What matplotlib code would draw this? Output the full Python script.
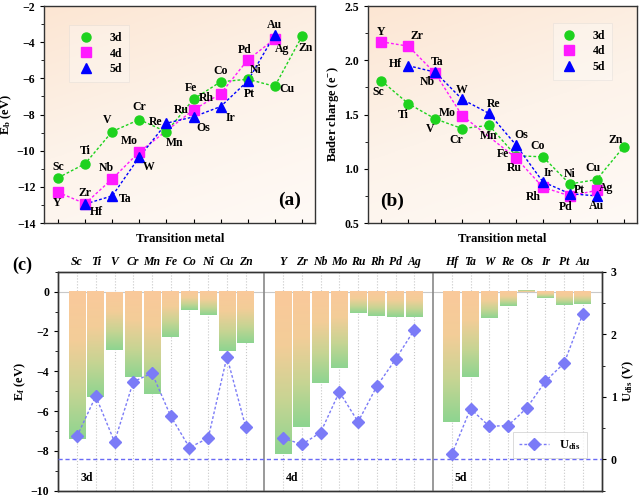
import numpy as np
import matplotlib
matplotlib.use('Agg')
import matplotlib.pyplot as plt
from matplotlib.colors import LinearSegmentedColormap
from matplotlib.ticker import MultipleLocator

plt.rcParams['font.family'] = ['Liberation Serif', 'DejaVu Serif']
plt.rcParams['font.weight'] = 'bold'
plt.rcParams['axes.labelweight'] = 'bold'
plt.rcParams['mathtext.fontset'] = 'custom'
plt.rcParams['mathtext.rm'] = 'Liberation Serif:bold'
plt.rcParams['mathtext.it'] = 'Liberation Serif:bold:italic'
plt.rcParams['mathtext.bf'] = 'Liberation Serif:bold'

# ---------------- data ----------------
el_3d = ['Sc', 'Ti', 'V', 'Cr', 'Mn', 'Fe', 'Co', 'Ni', 'Cu', 'Zn']
el_4d = ['Y', 'Zr', 'Nb', 'Mo', 'Ru', 'Rh', 'Pd', 'Ag']
el_5d = ['Hf', 'Ta', 'W', 'Re', 'Os', 'Ir', 'Pt', 'Au']

# x slots (group columns 1..10) used in panels (a) and (b)
pos_3d = [1, 2, 3, 4, 5, 6, 7, 8, 9, 10]
pos_4d = [1, 2, 3, 4, 6, 7, 8, 9]
pos_5d = [2, 3, 4, 5, 6, 7, 8, 9]

# (a) binding energy E_b (eV)
eb_3d = [-11.5, -10.72, -8.94, -8.28, -8.96, -7.15, -6.19, -6.05, -6.44, -3.68]
eb_4d = [-12.3, -12.93, -11.56, -10.07, -7.74, -6.85, -4.98, -3.82]
eb_5d = [-12.95, -12.5, -10.35, -8.48, -8.13, -7.56, -6.15, -3.58]

# (b) Bader charge (e-)
q_3d = [1.81, 1.60, 1.46, 1.37, 1.40, 1.12, 1.11, 0.86, 0.90, 1.20]
q_4d = [2.17, 2.13, 1.88, 1.49, 1.10, 0.83, 0.75, 0.80]
q_5d = [1.95, 1.89, 1.64, 1.51, 1.22, 0.88, 0.77, 0.75]

# (c) formation energy E_f (eV) and dissolution potential U_dis (V)
ef_3d = [-7.39, -5.29, -2.91, -4.30, -5.13, -2.29, -0.94, -1.19, -2.97, -2.57]
ef_4d = [-8.18, -6.82, -4.59, -3.85, -1.06, -1.24, -1.29, -1.26]
ef_5d = [-6.55, -4.27, -1.31, -0.72, 0.10, -0.32, -0.69, -0.62]
ud_3d = [0.37, 1.01, 0.28, 1.24, 1.38, 0.69, 0.19, 0.34, 1.64, 0.52]
ud_4d = [0.34, 0.24, 0.43, 1.08, 0.60, 1.17, 1.60, 2.07]
ud_5d = [0.08, 0.81, 0.53, 0.54, 0.82, 1.25, 1.54, 2.33]

# label offsets (points) for the element names in (a) and (b)
off_a_3d = [(0, 8), (0, 9), (-4, 8), (0, 9), (6, -8), (-2, 8), (0, 8), (6, 7), (9, -2), (3, -8)]
off_a_4d = [(-1, -8), (0, 8), (-4, 8), (-7, 8), (-9, 0), (-10, -3), (-2, 7), (5, -7)]
off_a_5d = [(8, -6), (9, -2), (7, -7), (-8, 1), (7, -8), (7, -8), (1, -9), (0, 7)]
off_b_3d = [(-2, -8), (-4, -8), (-4, -7), (-4, -8), (0, -8), (-9, 1), (-4, 8), (0, 7), (-3, 8), (-6, 5)]
off_b_4d = [(0, 7), (6, 7), (-6, -6), (-11, 2), (-1, -7), (-7, -7), (-3, -8), (7, 2)]
off_b_5d = [(-9, 1), (1, 7), (0, 7), (3, 7), (4, 7), (4, 6), (7, 3), (0, -7)]

green = '#1ed21e'
magenta = '#ff1aff'
blue = '#0000ff'
lab_fs = 8.5

fig = plt.figure(figsize=(6.4, 4.97), dpi=100)
ax_a = fig.add_axes([0.0695, 0.5513, 0.4234, 0.4366])
ax_b = fig.add_axes([0.575, 0.5513, 0.4203, 0.4366])
ax_c = fig.add_axes([0.0911, 0.0127, 0.849, 0.4406])

bg_cmap = LinearSegmentedColormap.from_list('bg', ['#fce6d3', '#fdf3ea', '#fffaf6'])
bg = np.linspace(0, 1, 200).reshape(-1, 1) * 0.7 + np.linspace(0, 1, 200).reshape(1, -1) * 0.3


def scatter_panel(ax, series, labels, offsets):
    ax.imshow(bg, cmap=bg_cmap, extent=(0, 1, 0, 1), transform=ax.transAxes,
              aspect='auto', zorder=0, origin='upper')
    for (xs, ys, col, mk, name), labs, offs in zip(series, labels, offsets):
        ax.plot(xs, ys, color=col, ls=(0, (2, 1.5)), lw=1, zorder=2)
        ax.plot(xs, ys, color=col, ls='none', marker=mk, ms=6.5, label=name, zorder=3)
        for x, y, t, o in zip(xs, ys, labs, offs):
            ax.annotate(t, (x, y), xytext=o, textcoords='offset points',
                        ha='center', va='center', fontsize=lab_fs, zorder=4)
    ax.set_xlim(0.5, 10.5)
    ax.set_xticks(range(1, 11))
    ax.set_xticklabels([])
    ax.tick_params(axis='x', direction='in', length=3)
    ax.tick_params(axis='y', direction='out', length=3, labelsize=8.5)
    ax.tick_params(axis='y', which='minor', direction='out', length=2)
    ax.set_xlabel('Transition metal', fontsize=9, labelpad=4)
    for s in ax.spines.values():
        s.set_color('#333333')
        s.set_linewidth(1)
    leg = ax.legend(fontsize=8.5, handletextpad=1.2, borderpad=0.6, labelspacing=0.3,
                    handlelength=1.6, fancybox=False, edgecolor='#cccccc', framealpha=0.3)
    leg.get_frame().set_linewidth(0.6)
    return leg


series_a = [(pos_3d, eb_3d, green, 'o', '3d'), (pos_4d, eb_4d, magenta, 's', '4d'),
            (pos_5d, eb_5d, blue, '^', '5d')]
leg_a = scatter_panel(ax_a, series_a, [el_3d, el_4d, el_5d], [off_a_3d, off_a_4d, off_a_5d])
leg_a.set_bbox_to_anchor((0.07, 0.94), transform=ax_a.transAxes)
leg_a._loc = 2
ax_a.set_ylim(-14, -2)
ax_a.yaxis.set_major_locator(MultipleLocator(2))
ax_a.yaxis.set_minor_locator(MultipleLocator(1))
ax_a.set_ylabel('E$_\\mathrm{b}$ (eV)', fontsize=9, labelpad=2)
ax_a.text(0.905, 0.105, '(a)', transform=ax_a.transAxes, fontsize=14,
          ha='center', va='center')

series_b = [(pos_3d, q_3d, green, 'o', '3d'), (pos_4d, q_4d, magenta, 's', '4d'),
            (pos_5d, q_5d, blue, '^', '5d')]
leg_b = scatter_panel(ax_b, series_b, [el_3d, el_4d, el_5d], [off_b_3d, off_b_4d, off_b_5d])
leg_b.set_bbox_to_anchor((0.93, 0.95), transform=ax_b.transAxes)
leg_b._loc = 1
ax_b.set_ylim(0.5, 2.5)
ax_b.yaxis.set_major_locator(MultipleLocator(0.5))
ax_b.yaxis.set_minor_locator(MultipleLocator(0.25))
ax_b.set_ylabel('Bader charge (e$^{-}$)', fontsize=9, labelpad=2)
ax_b.text(0.09, 0.1, '(b)', transform=ax_b.transAxes, fontsize=14,
          ha='center', va='center')

# ---------------- panel (c) ----------------
names_c = el_3d + el_4d + el_5d
xc_3d = np.arange(0, 10)
xc_4d = np.arange(11, 19)
xc_5d = np.arange(20, 28)
xc = np.concatenate([xc_3d, xc_4d, xc_5d])
ef = ef_3d + ef_4d + ef_5d

bar_cmap = LinearSegmentedColormap.from_list('bar', ['#fac99b', '#f3cd98', '#c8d493', '#8ed590'])
grad = np.linspace(0, 1, 100).reshape(-1, 1)
w = 0.9
ax_c.set_xlim(-1, 28)
ax_c.set_ylim(-10, 1)
for x, v in zip(xc, ef):
    ax_c.imshow(grad, cmap=bar_cmap, extent=(x - w / 2, x + w / 2, v, 0),
                aspect='auto', origin='upper', zorder=2)
ax_c.set_aspect('auto')
ax_c.axhline(0, color='#c8c8c8', lw=0.8, zorder=1)
for xs in (10, 19):
    ax_c.axvline(xs, color='#888888', lw=1.2, zorder=3)

ax_c.set_xticks(xc)
ax_c.set_xticklabels(names_c, fontstyle='italic', fontsize=8.5)
ax_c.xaxis.set_ticks_position('top')
ax_c.tick_params(axis='x', length=0, pad=3)
ax_c.grid(axis='x', ls=':', color='#c8c8c8', lw=0.8, zorder=0)
ax_c.set_axisbelow(True)
ax_c.yaxis.set_major_locator(MultipleLocator(2))
ax_c.yaxis.set_minor_locator(MultipleLocator(1))
ax_c.tick_params(axis='y', direction='out', length=3, labelsize=8.5)
ax_c.tick_params(axis='y', which='minor', length=2)
ax_c.set_ylabel('E$_\\mathrm{f}$ (eV)', fontsize=9, labelpad=2)
for s in ax_c.spines.values():
    s.set_color('#333333')
    s.set_linewidth(1)

for xg, t in zip((0.5, 11.5, 20.5), ('3d', '4d', '5d')):
    ax_c.text(xg, -9.35, t, fontsize=8.5, ha='center', va='center', zorder=5)

ax_d = ax_c.twinx()
ax_d.set_ylim(-0.5, 3)
ud_col = '#7b7bf7'
for i, (xs, ys) in enumerate(((xc_3d, ud_3d), (xc_4d, ud_4d), (xc_5d, ud_5d))):
    ax_d.plot(xs, ys, color=ud_col, ls=(0, (2, 1.5)), lw=1, marker='D', ms=6,
              label='U$_\\mathrm{dis}$' if i == 0 else None, zorder=4)
ax_d.axhline(0, color='#6a6af5', ls=(0, (3, 2)), lw=1, zorder=3)
ax_d.yaxis.set_major_locator(MultipleLocator(1))
ax_d.yaxis.set_minor_locator(MultipleLocator(0.5))
ax_d.tick_params(axis='y', direction='out', length=3, labelsize=8.5)
ax_d.tick_params(axis='y', which='minor', length=2)
ax_d.set_ylabel('U$_\\mathrm{dis}$ (V)', fontsize=9, labelpad=3)
for s in ax_d.spines.values():
    s.set_color('#333333')
    s.set_linewidth(1)
leg_d = ax_d.legend(loc='lower right', bbox_to_anchor=(0.985, 0.12), fontsize=9,
                    fancybox=False, edgecolor='#cccccc', handlelength=2.4, borderpad=0.5)
leg_d.get_frame().set_linewidth(0.6)

fig.text(0.034, 0.467, '(c)', fontsize=13, ha='center', va='center')

fig.savefig('out.png', dpi=100)
